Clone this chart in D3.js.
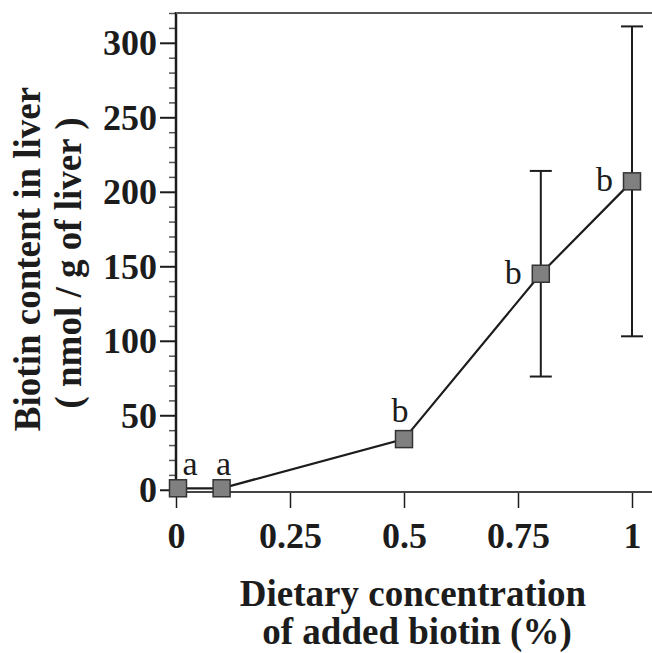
<!DOCTYPE html>
<html>
<head>
<meta charset="utf-8">
<script src="https://cdn.jsdelivr.net/npm/d3@7"></script>
<style>
  html, body { margin: 0; padding: 0; background: #fff; }
  svg { display: block; }
  text { font-family: "Liberation Serif", "Times New Roman", serif; fill: #1c1c1c; }
</style>
</head>
<body>
<svg id="chart" width="652" height="653"></svg>
<script>
// ---- data ----
const doses = [0, 0.1, 0.5, 0.8, 1];
const biotinMeans = [1, 1, 34, 145, 207];
const biotinSD = [0, 0, 0, 69, 104];
const groupLetters = ["a", "a", "b", "b", "b"];
const xTickValues = [0, 0.25, 0.5, 0.75, 1];
const xTickLabels = ["0", "0.25", "0.5", "0.75", "1"];
const yMajorTicks = [0, 50, 100, 150, 200, 250, 300];
const yMinorTicks = d3.range(0, 321, 10).filter(v => v % 50 !== 0);
const xTitle = ["Dietary concentration", "of added biotin (%)"];
const yTitle = ["Biotin content in liver", "( nmol / g of liver )"];

// ---- layout ----
const svg = d3.select("#chart");
const pLeft = 176, pRight = 652, pTop = 13, pBottom = 492;
const x = d3.scaleLinear().domain([0, 1]).range([pLeft, 632]);
const y = d3.scaleLinear().domain([-1.5, 320]).range([pBottom, pTop]);
const ink = "#1c1c1c";

// y axis major ticks
const yAxis = d3.axisLeft(y).tickValues(yMajorTicks).tickSize(16).tickPadding(3).tickFormat(d3.format("d"));
const gy = svg.append("g").attr("transform", `translate(${pLeft},0)`).call(yAxis);
gy.select(".domain").remove();
gy.selectAll("line").attr("stroke", ink).attr("stroke-width", 2);
gy.selectAll("text").attr("font-size", 36).attr("font-weight", "bold")
  .attr("dy", "0.33em").attr("fill", ink);

// y axis minor ticks
const yMinor = d3.axisLeft(y).tickValues(yMinorTicks).tickSize(7).tickFormat("");
const gym = svg.append("g").attr("transform", `translate(${pLeft},0)`).call(yMinor);
gym.select(".domain").remove();
gym.selectAll("line").attr("stroke", "#555").attr("stroke-width", 1.5);

// x axis
const xAxis = d3.axisBottom(x).tickValues(xTickValues).tickSize(16).tickFormat((d, i) => xTickLabels[i]);
const gx = svg.append("g").attr("transform", `translate(0,${pBottom})`).call(xAxis);
gx.select(".domain").remove();
gx.selectAll("line").attr("stroke", ink).attr("stroke-width", 1.5);
gx.selectAll("text").attr("font-size", 36).attr("font-weight", "bold")
  .attr("y", 56).attr("dy", 0).attr("fill", ink);

// frame lines
svg.append("line").attr("x1", pLeft).attr("x2", pLeft).attr("y1", pTop - 1).attr("y2", pBottom + 1)
  .attr("stroke", ink).attr("stroke-width", 2.5);
svg.append("line").attr("x1", pLeft).attr("x2", pRight).attr("y1", pBottom).attr("y2", pBottom)
  .attr("stroke", "#444").attr("stroke-width", 2);
svg.append("line").attr("x1", pLeft).attr("x2", pRight).attr("y1", pTop).attr("y2", pTop)
  .attr("stroke", "#555").attr("stroke-width", 2);

// axis titles
const xt = svg.append("text").attr("text-anchor", "middle").attr("font-size", 37).attr("font-weight", "bold");
xt.append("tspan").attr("x", 413).attr("y", 606).text(xTitle[0]);
xt.append("tspan").attr("x", 417).attr("y", 644).text(xTitle[1]);

const yt = svg.append("text").attr("text-anchor", "middle").attr("font-size", 37).attr("font-weight", "bold")
  .attr("transform", "rotate(-90)");
yt.append("tspan").attr("x", -259).attr("y", 40).text(yTitle[0]);
yt.append("tspan").attr("x", -263).attr("y", 81).text(yTitle[1]);

// error bars
const pts = doses.map((d, i) => ({ x: d, m: biotinMeans[i], e: biotinSD[i], l: groupLetters[i] }));
const eb = svg.append("g").attr("stroke", ink).attr("stroke-width", 2);
pts.filter(p => p.e > 0).forEach(p => {
  eb.append("line").attr("x1", x(p.x)).attr("x2", x(p.x)).attr("y1", y(p.m - p.e)).attr("y2", y(p.m + p.e));
  [p.m - p.e, p.m + p.e].forEach(v => {
    eb.append("line").attr("x1", x(p.x) - 11).attr("x2", x(p.x) + 11).attr("y1", y(v)).attr("y2", y(v));
  });
});

// line
svg.append("path").datum(pts)
  .attr("d", d3.line().x(p => x(p.x)).y(p => y(p.m)))
  .attr("fill", "none").attr("stroke", ink).attr("stroke-width", 2.2);

// markers
const ms = 17;
svg.append("g").selectAll("rect").data(pts).join("rect")
  .attr("x", p => x(p.x) - ms / 2 + (p.x === 0 ? 2 : 0)).attr("y", p => y(p.m) - ms / 2)
  .attr("width", ms).attr("height", ms)
  .attr("fill", "#808080").attr("stroke", "#333").attr("stroke-width", 1.5);

// letters
svg.append("g").selectAll("text").data(pts).join("text")
  .attr("font-size", 34)
  .attr("text-anchor", p => p.e > 0 ? "end" : "middle")
  .attr("x", p => p.e > 0 ? x(p.x) - 19 : x(p.x) + (p.x === 0 ? 14 : 2) - (p.m > 10 ? 6 : 0))
  .attr("y", p => p.e > 0 ? y(p.m) + 10 : y(p.m) - (p.m > 10 ? 17 : 13))
  .attr("fill", ink)
  .text(p => p.l);
</script>
</body>
</html>
